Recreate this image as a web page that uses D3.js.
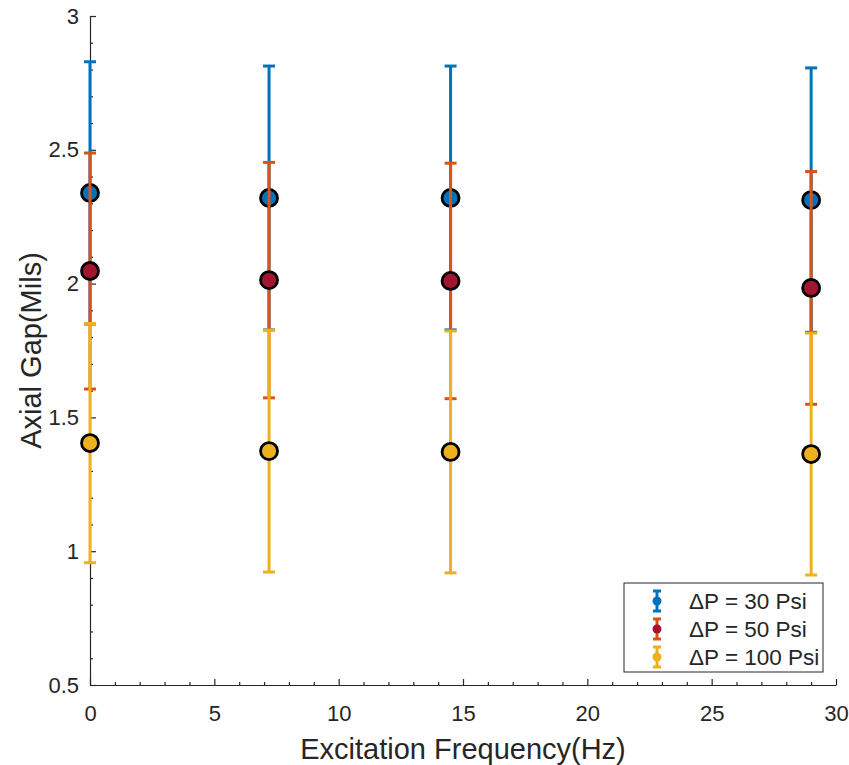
<!DOCTYPE html>
<html>
<head>
<meta charset="utf-8">
<script src="https://cdn.jsdelivr.net/npm/d3@7"></script>
<style>
  html, body { margin: 0; padding: 0; background: #fff; }
  svg { display: block; font-family: "Liberation Sans", Arial, Helvetica, sans-serif; }
  .ax text { fill: #262626; font-size: 22px; }
  .ax line, .ax path { stroke: #262626; stroke-width: 1.2; }
</style>
</head>
<body>
<svg id="chart"></svg>
<script>
// ---- data ----
const freqs = [0, 7.2, 14.5, 29];

const gap30  = [2.339, 2.320, 2.320, 2.312];
const err30  = [0.490, 0.493, 0.493, 0.494];
const gap50  = [2.047, 2.013, 2.010, 1.984];
const err50  = [0.441, 0.440, 0.440, 0.435];
const gap100 = [1.404, 1.374, 1.371, 1.363];
const err100 = [0.447, 0.452, 0.452, 0.452];

const seriesNames  = ['\u0394P = 30 Psi', '\u0394P = 50 Psi', '\u0394P = 100 Psi'];
const lineColors   = ['#0072BD', '#D95319', '#EDB120'];
const markerColors = ['#0072BD', '#A2142F', '#EDB120'];

const xTicks = [0, 5, 10, 15, 20, 25, 30];
const yTicks = [0.5, 1, 1.5, 2, 2.5, 3];

// ---- layout ----
const W = 849, H = 765;
const MARGIN = { top: 16, right: 13, bottom: 80, left: 90 };
const iw = W - MARGIN.left - MARGIN.right;
const ih = H - MARGIN.top - MARGIN.bottom;

const svg = d3.select('#chart').attr('width', W).attr('height', H);
svg.append('rect').attr('width', W).attr('height', H).attr('fill', '#fff');
const g = svg.append('g').attr('transform', `translate(${MARGIN.left},${MARGIN.top})`);

const x = d3.scaleLinear().domain([0, 30]).range([0, iw]);
const y = d3.scaleLinear().domain([0.5, 3]).range([ih, 0]);

// minor ticks first, majors over them
const xMinor = d3.range(0, 31, 1).filter(v => v % 5 !== 0);
const yMinor = d3.range(5, 31, 1).map(v => v / 10).filter(v => Math.round(v * 10) % 5 !== 0);

g.append('g').attr('class', 'ax')
    .attr('transform', `translate(0,${ih})`)
    .call(d3.axisBottom(x).tickValues(xMinor).tickSize(-3).tickSizeOuter(0).tickFormat(''))
    .call(a => a.select('.domain').remove());
g.append('g').attr('class', 'ax')
    .call(d3.axisLeft(y).tickValues(yMinor).tickSize(-3).tickSizeOuter(0).tickFormat(''))
    .call(a => a.select('.domain').remove());

g.append('g').attr('class', 'ax')
    .attr('transform', `translate(0,${ih})`)
    .call(d3.axisBottom(x).tickValues(xTicks).tickSize(-6).tickSizeOuter(0).tickPadding(20).tickFormat(d3.format('d')));
g.append('g').attr('class', 'ax')
    .call(d3.axisLeft(y).tickValues(yTicks).tickSize(-6).tickSizeOuter(0).tickPadding(11).tickFormat(d => String(d)));

// axis labels
svg.append('text')
    .attr('x', MARGIN.left + iw / 2).attr('y', 759)
    .attr('text-anchor', 'middle').attr('fill', '#262626').attr('font-size', 29)
    .text('Excitation Frequency(Hz)');
svg.append('text')
    .attr('transform', `translate(41,${MARGIN.top + ih / 2}) rotate(-90)`)
    .attr('text-anchor', 'middle').attr('fill', '#262626').attr('font-size', 29)
    .text('Axial Gap(Mils)');

// ---- error bars ----
const series = [
    { gap: gap30,  err: err30 },
    { gap: gap50,  err: err50 },
    { gap: gap100, err: err100 },
];
const CAP = 6;

series.forEach((s, i) => {
    const rows = freqs.map((f, j) => ({ f, v: s.gap[j], e: s.err[j] }));
    const sg = g.append('g');
    const bars = sg.selectAll('g.bar').data(rows).join('g').attr('class', 'bar')
        .attr('stroke', lineColors[i]).attr('stroke-width', 3);
    bars.append('line')
        .attr('x1', d => x(d.f)).attr('x2', d => x(d.f))
        .attr('y1', d => y(d.v + d.e)).attr('y2', d => y(d.v - d.e));
    bars.append('line')
        .attr('x1', d => x(d.f) - CAP).attr('x2', d => x(d.f) + CAP)
        .attr('y1', d => y(d.v + d.e)).attr('y2', d => y(d.v + d.e));
    bars.append('line')
        .attr('x1', d => x(d.f) - CAP).attr('x2', d => x(d.f) + CAP)
        .attr('y1', d => y(d.v - d.e)).attr('y2', d => y(d.v - d.e));
    sg.selectAll('circle').data(rows).join('circle')
        .attr('cx', d => x(d.f)).attr('cy', d => y(d.v)).attr('r', 8.5)
        .attr('fill', markerColors[i]).attr('stroke', '#000').attr('stroke-width', 2.8);
});

// ---- legend ----
const LEG = { w: 199, h: 89, row: 28 };
const lg = g.append('g')
    .attr('transform', `translate(${iw - LEG.w - 13},${ih - LEG.h - 13})`);
lg.append('rect').attr('width', LEG.w).attr('height', LEG.h)
    .attr('fill', '#fff').attr('stroke', '#262626').attr('stroke-width', 1);
seriesNames.forEach((name, i) => {
    const cy = 18 + i * LEG.row;
    const it = lg.append('g').attr('transform', `translate(33,${cy})`);
    it.append('line').attr('y1', -10).attr('y2', 10)
        .attr('stroke', lineColors[i]).attr('stroke-width', 3);
    it.append('line').attr('x1', -4).attr('x2', 4).attr('y1', -10).attr('y2', -10)
        .attr('stroke', lineColors[i]).attr('stroke-width', 3);
    it.append('line').attr('x1', -4).attr('x2', 4).attr('y1', 10).attr('y2', 10)
        .attr('stroke', lineColors[i]).attr('stroke-width', 3);
    it.append('circle').attr('r', 4.5).attr('fill', markerColors[i]);
    lg.append('text').attr('x', 65).attr('y', cy).attr('dy', '0.35em')
        .attr('fill', '#262626').attr('font-size', 22.5).text(name);
});
</script>
</body>
</html>
